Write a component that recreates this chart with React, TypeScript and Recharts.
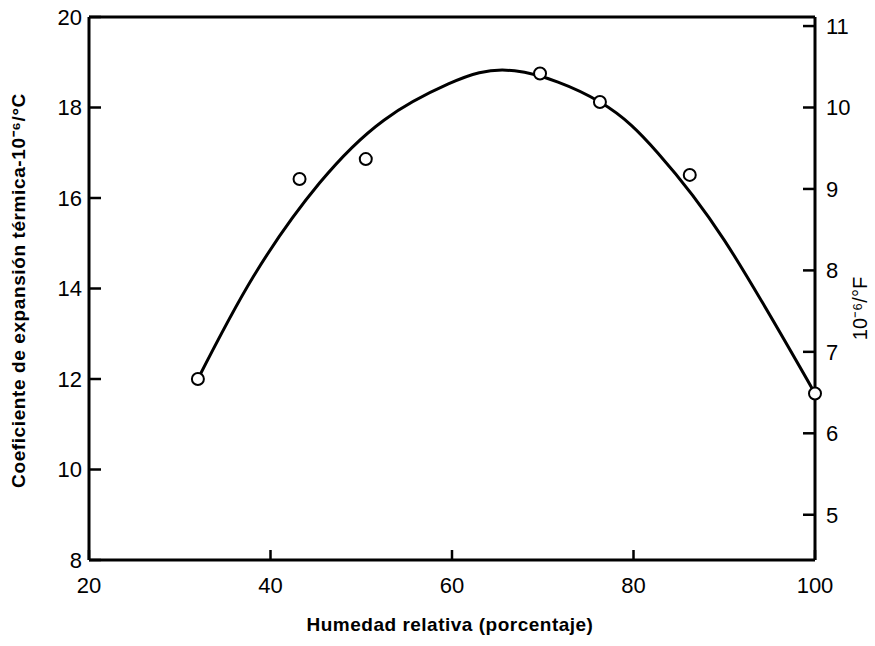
import React from "react";
import {
  ComposedChart,
  Line,
  Scatter,
  XAxis,
  YAxis,
  ReferenceLine,
  Label,
} from "recharts";

// Measured points (humidity %, coefficient 10^-6/°C)
const pointHumidity = [32, 43.2, 50.5, 69.7, 76.3, 86.2, 100];
const pointCoef = [12.0, 16.42, 16.86, 18.75, 18.12, 16.51, 11.68];

// Fitted curve
const curveHumidity = [32, 38.1, 45.4, 52.5, 59.6, 66.9, 76.3, 82.7, 90.0, 100];
const curveCoef = [12.0, 14.26, 16.33, 17.72, 18.52, 18.81, 18.12, 16.99, 15.07, 11.68];

const xTicks = [20, 40, 60, 80, 100];
const leftTicks = [8, 10, 12, 14, 16, 18, 20];
const rightTicks = [5, 6, 7, 8, 9, 10, 11];

const points = pointHumidity.map((x, i) => ({ x, y: pointCoef[i] }));
const curve = curveHumidity.map((x, i) => ({ x, y: curveCoef[i] }));

const FONT = "'Liberation Sans', Arial, sans-serif";
const INK = "#000";

const LeftTick = (props: any) => {
  const { x, y, payload } = props;
  return (
    <g>
      <line x1={x} y1={y} x2={x + 12} y2={y} stroke={INK} strokeWidth={2.5} />
      <text x={x - 7} y={y} dy="0.36em" textAnchor="end" fontFamily={FONT} fontSize={22} fill={INK}>
        {payload.value}
      </text>
    </g>
  );
};

const RightTick = (props: any) => {
  const { x, y, payload } = props;
  return (
    <g>
      <line x1={x} y1={y} x2={x - 12} y2={y} stroke={INK} strokeWidth={2.5} />
      <text x={x + 11} y={y} dy="0.36em" textAnchor="start" fontFamily={FONT} fontSize={22} fill={INK}>
        {payload.value}
      </text>
    </g>
  );
};

const BottomTick = (props: any) => {
  const { x, y, payload } = props;
  return (
    <g>
      <line x1={x} y1={y} x2={x} y2={y - 10} stroke={INK} strokeWidth={2.5} />
      <text x={x} y={y + 25} dy="0.36em" textAnchor="middle" fontFamily={FONT} fontSize={22} fill={INK}>
        {payload.value}
      </text>
    </g>
  );
};

const OpenCircle = (props: any) => {
  const { cx, cy } = props;
  return <circle cx={cx} cy={cy} r={6} fill="#fff" stroke={INK} strokeWidth={2} />;
};

const LeftTitle = (props: any) => {
  const vb = props.viewBox;
  const cx = vb.x + 18;
  const cy = vb.y + vb.height / 2 + 2;
  return (
    <text
      x={cx}
      y={cy}
      transform={`rotate(-90 ${cx} ${cy})`}
      textAnchor="middle"
      dy="0.36em"
      fontFamily={FONT}
      fontSize={19}
      fontWeight={700}
      letterSpacing={0.6}
      fill={INK}
    >
      Coeficiente de expansión térmica-10⁻⁶/°C
    </text>
  );
};

const RightTitle = (props: any) => {
  const vb = props.viewBox;
  const cx = vb.x + 45;
  const cy = vb.y + vb.height / 2 + 20;
  return (
    <text
      x={cx}
      y={cy}
      transform={`rotate(-90 ${cx} ${cy})`}
      textAnchor="middle"
      dy="0.36em"
      fontFamily={FONT}
      fontSize={20}
      fill={INK}
    >
      10⁻⁶/°F
    </text>
  );
};

const BottomTitle = (props: any) => {
  const vb = props.viewBox;
  return (
    <text
      x={vb.x + vb.width / 2 - 2}
      y={vb.y + 71}
      textAnchor="middle"
      fontFamily={FONT}
      fontSize={19}
      fontWeight={700}
      letterSpacing={0.5}
      fill={INK}
    >
      Humedad relativa (porcentaje)
    </text>
  );
};

export default function App() {
  return (
    <div style={{ position: "absolute", left: 0, top: 0, background: "#fff" }}>
      <ComposedChart
        width={875}
        height={646}
        margin={{ top: 17, right: 0, bottom: 0, left: 0 }}
        style={{ background: "#fff" }}
      >
        <XAxis
          xAxisId="x"
          type="number"
          dataKey="x"
          domain={[20, 100]}
          ticks={xTicks}
          height={86}
          tickSize={0}
          tickMargin={0}
          tickLine={false}
          axisLine={{ stroke: INK, strokeWidth: 3 }}
          tick={<BottomTick />}
          interval={0}
        >
          <Label content={<BottomTitle />} />
        </XAxis>
        <YAxis
          yAxisId="c"
          type="number"
          domain={[8, 20]}
          ticks={leftTicks}
          width={89}
          tickSize={0}
          tickMargin={0}
          tickLine={false}
          axisLine={{ stroke: INK, strokeWidth: 3 }}
          tick={<LeftTick />}
          interval={0}
        >
          <Label content={<LeftTitle />} />
        </YAxis>
        <YAxis
          yAxisId="f"
          orientation="right"
          type="number"
          domain={[40 / 9, 100 / 9]}
          ticks={rightTicks}
          allowDataOverflow
          width={60}
          tickSize={0}
          tickMargin={0}
          tickLine={false}
          axisLine={{ stroke: INK, strokeWidth: 3 }}
          tick={<RightTick />}
          interval={0}
        >
          <Label content={<RightTitle />} />
        </YAxis>
        <ReferenceLine xAxisId="x" yAxisId="c" y={20} stroke={INK} strokeWidth={3} />
        <Line
          xAxisId="x"
          yAxisId="c"
          data={curve}
          dataKey="y"
          type="natural"
          stroke={INK}
          strokeWidth={3}
          dot={false}
          activeDot={false}
          isAnimationActive={false}
        />
        <Scatter
          xAxisId="x"
          yAxisId="c"
          data={points}
          dataKey="y"
          shape={<OpenCircle />}
          isAnimationActive={false}
        />
      </ComposedChart>
    </div>
  );
}
